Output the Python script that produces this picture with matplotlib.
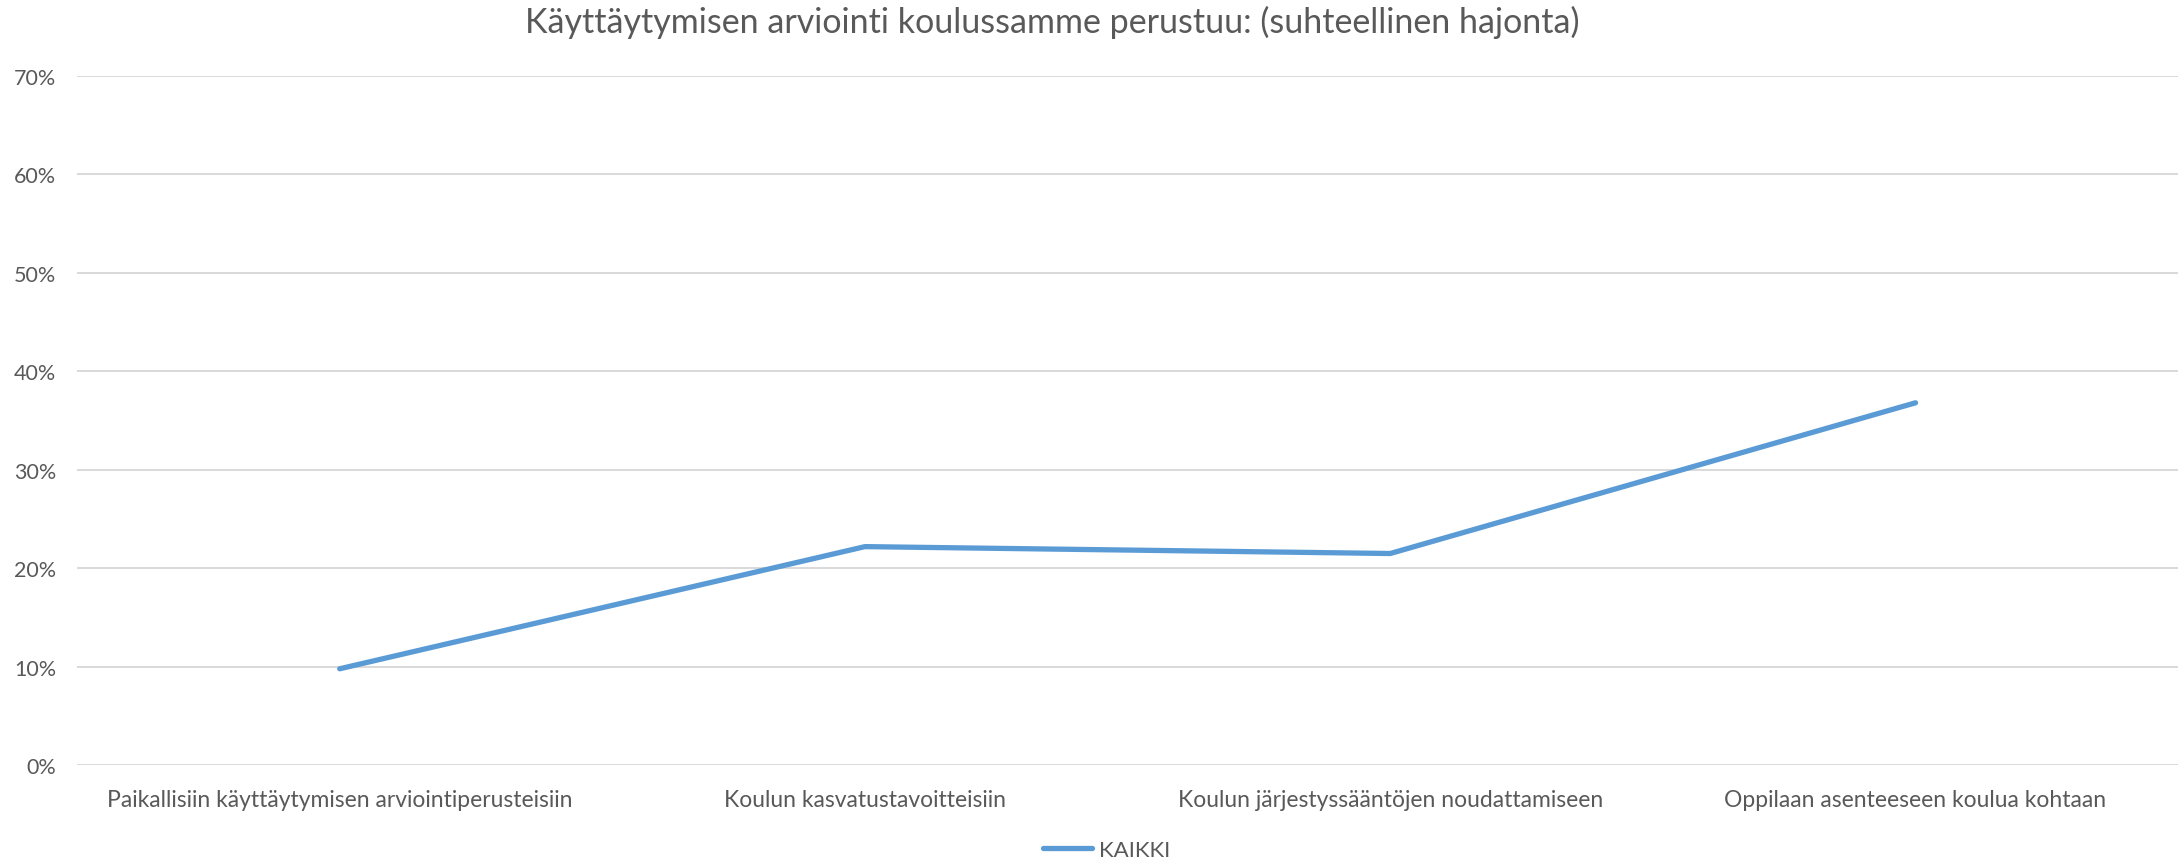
import matplotlib
matplotlib.use("Agg")
import matplotlib.pyplot as plt
from matplotlib.ticker import PercentFormatter, MultipleLocator

categories = [
    "Paikallisiin käyttäytymisen arviointiperusteisiin",
    "Koulun kasvatustavoitteisiin",
    "Koulun järjestyssääntöjen noudattamiseen",
    "Oppilaan asenteeseen koulua kohtaan",
]
kaikki = [0.098, 0.222, 0.215, 0.368]
series_name = "KAIKKI"
title = "Käyttäytymisen arviointi koulussamme perustuu: (suhteellinen hajonta)"

plt.rcParams['font.family'] = ['Lato', 'DejaVu Sans']
plt.rcParams['font.weight'] = 'normal'
text_color = "#595959"

fig = plt.figure(figsize=(21.83, 8.62), dpi=100)
ax = fig.add_axes([0.0353, 0.111, 0.9625, 0.800])

x = list(range(len(categories)))
ax.plot(x, kaikki, color="#5B9BD5", linewidth=3.8, solid_capstyle="round",
        solid_joinstyle="round", label=series_name)

ax.set_xlim(-0.5, len(categories) - 0.5)
ax.set_ylim(0, 0.70)
ax.yaxis.set_major_locator(MultipleLocator(0.10))
ax.yaxis.set_major_formatter(PercentFormatter(1.0, decimals=0))
ax.set_xticks(x)
ax.set_xticklabels(categories)

ax.grid(axis="y", color="#D9D9D9", linewidth=1.4)
ax.set_axisbelow(True)
for s in ax.spines.values():
    s.set_visible(False)
ax.tick_params(axis="x", length=0, colors=text_color, labelsize=16.5, pad=17)
ax.tick_params(axis="y", length=0, colors=text_color, labelsize=15.5, pad=15)

fig.suptitle(title, x=0.482, y=0.993, fontsize=24.5, color=text_color)

leg = fig.legend(loc="lower center", bbox_to_anchor=(0.507, -0.022), frameon=False,
                 fontsize=16, handlelength=2.2, handletextpad=0.3,
                 labelcolor=text_color)

fig.savefig("out.png", dpi=100)
